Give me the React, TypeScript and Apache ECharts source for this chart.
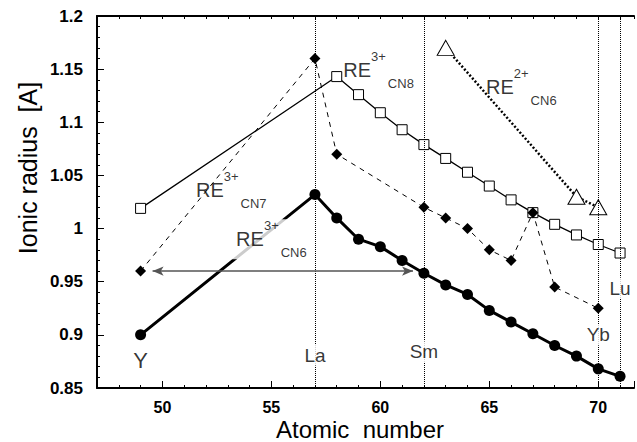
import React, { useEffect, useRef } from "react";
import * as echarts from "echarts";

const FONT = "'Liberation Sans', Arial, sans-serif";

// RE3+ CN6 (filled circles)
const cn6X = [49, 57, 58, 59, 60, 61, 62, 63, 64, 65, 66, 67, 68, 69, 70, 71];
const cn6Y = [0.9, 1.032, 1.01, 0.99, 0.983, 0.97, 0.958, 0.947, 0.938, 0.923, 0.912, 0.901, 0.89, 0.88, 0.868, 0.861];
// RE3+ CN8 (open squares)
const cn8X = [49, 58, 59, 60, 61, 62, 63, 64, 65, 66, 67, 68, 69, 70, 71];
const cn8Y = [1.019, 1.143, 1.126, 1.109, 1.093, 1.079, 1.066, 1.053, 1.04, 1.027, 1.015, 1.004, 0.994, 0.985, 0.977];
// RE3+ CN7 (filled diamonds, dashed)
const cn7X = [49, 57, 58, 62, 63, 64, 65, 66, 67, 68, 70];
const cn7Y = [0.96, 1.16, 1.07, 1.02, 1.01, 1.0, 0.98, 0.97, 1.015, 0.945, 0.925];
// RE2+ CN6 (open triangles, dotted)
const re2X = [63, 69, 70];
const re2Y = [1.17, 1.03, 1.02];

// element markers
const elemNames = ["Y", "La", "Sm", "Yb", "Lu"];
const elemX = [49, 57, 62, 70, 71];
const elemLabelY = [0.876, 0.881, 0.884, 0.9, 0.944];
const vLines = [57, 62, 70, 71];

// series annotations: [charge, CN], anchored at left-middle of "RE"
const annCharge = ["3+", "3+", "3+", "2+"];
const annCN = ["CN8", "CN7", "CN6", "CN6"];
const annX = [58.3, 51.54, 53.2, 64.85];
const annY = [1.149, 1.036, 0.99, 1.133];

// arrow
const arrowFrom = [49.55, 0.96];
const arrowTo = [61.5, 0.96];

const xMin = 47;
const xMax = 71.64;

export default function App() {
  const ref = useRef<HTMLDivElement>(null);
  useEffect(() => {
    if (!ref.current) return;
    const chart = echarts.init(ref.current, undefined, { renderer: "svg" });
    const zip = (xs: number[], ys: number[]) => xs.map((x, i) => [x, ys[i]]);
    const baseX = {
      type: "value",
      min: xMin,
      max: xMax,
      splitLine: { show: false },
      axisLine: { show: true, onZero: false, lineStyle: { color: "#000", width: 2 } },
    };
    const option: any = {
      animation: false,
      backgroundColor: "#fff",
      grid: { left: 97, top: 16, right: 0, bottom: 54, containLabel: false },
      xAxis: [
        {
          ...baseX,
          position: "bottom",
          interval: 1,
          axisTick: { show: true, inside: true, length: 3, lineStyle: { color: "#000", width: 1 } },
          axisLabel: { show: false },
        },
        {
          ...baseX,
          position: "top",
          interval: 1,
          axisTick: { show: true, inside: true, length: 3, lineStyle: { color: "#000", width: 1 } },
          axisLabel: { show: false },
        },
        {
          ...baseX,
          position: "bottom",
          splitNumber: 5,
          axisLine: { show: false },
          axisTick: { show: true, inside: true, length: 7, lineStyle: { color: "#000", width: 1 } },
          axisLabel: {
            show: true,
            color: "#000",
            fontFamily: FONT,
            fontWeight: "bold",
            fontSize: 16,
            lineHeight: 16,
            margin: 11,
            formatter: (v: number) => (Math.abs(v % 5) < 1e-6 ? String(v) : ""),
          },
        },
      ],
      yAxis: [
        {
          type: "value",
          min: 0.85,
          max: 1.2,
          interval: 0.05,
          splitLine: { show: false },
          axisLine: { show: true, onZero: false, lineStyle: { color: "#000", width: 2 } },
          axisTick: { show: true, inside: true, length: 7, lineStyle: { color: "#000", width: 1 } },
          minorTick: { show: true, splitNumber: 5, length: 3, lineStyle: { color: "#000", width: 1 } },
          axisLabel: {
            color: "#000",
            fontFamily: FONT,
            fontWeight: "bold",
            fontSize: 17,
            margin: 14,
          },
        },
      ],
      graphic: [
        {
          type: "text",
          x: 28,
          y: 168,
          rotation: Math.PI / 2,
          style: {
            text: "Ionic radius  [A]",
            font: `25px ${FONT}`,
            fill: "#000",
            textAlign: "center",
            textVerticalAlign: "middle",
          },
        },
        {
          type: "text",
          x: 360,
          y: 429,
          style: {
            text: "Atomic  number",
            font: `24px ${FONT}`,
            fill: "#000",
            textAlign: "center",
            textVerticalAlign: "middle",
          },
        },
      ],
      series: [
        {
          type: "line",
          name: "vlines",
          data: [],
          xAxisIndex: 0,
          markLine: {
            silent: true,
            symbol: ["none", "none"],
            label: { show: false },
            lineStyle: { color: "#000", type: "dotted", width: 1 },
            data: vLines.map((v) => ({ xAxis: v })),
          },
        },
        {
          type: "line",
          name: "arrow",
          data: [],
          markLine: {
            silent: true,
            symbol: ["arrow", "arrow"],
            symbolSize: [7, 11],
            label: { show: false },
            lineStyle: { color: "#555", type: "solid", width: 1.5 },
            data: [[{ coord: arrowFrom }, { coord: arrowTo }]],
          },
        },
        {
          type: "line",
          name: "RE3+ CN8",
          data: zip(cn8X, cn8Y),
          symbol: "rect",
          symbolSize: 10,
          lineStyle: { color: "#000", width: 1.3 },
          itemStyle: { color: "#fff", borderColor: "#000", borderWidth: 1 },
          z: 3,
        },
        {
          type: "line",
          name: "RE3+ CN7",
          data: zip(cn7X, cn7Y),
          symbol: "diamond",
          symbolSize: 11,
          lineStyle: { color: "#000", width: 1, type: [5, 5] },
          itemStyle: { color: "#000" },
          z: 3,
        },
        {
          type: "line",
          name: "RE2+ CN6",
          data: zip(re2X, re2Y),
          symbol: "triangle",
          symbolSize: [17, 15],
          lineStyle: { color: "#000", width: 2.5, type: [2, 2] },
          itemStyle: { color: "#fff", borderColor: "#000", borderWidth: 1 },
          z: 3,
        },
        {
          type: "line",
          name: "RE3+ CN6",
          data: zip(cn6X, cn6Y),
          symbol: "circle",
          symbolSize: 11,
          lineStyle: { color: "#000", width: 3 },
          itemStyle: { color: "#000" },
          z: 4,
        },
        {
          type: "scatter",
          name: "annotations",
          symbolSize: 0,
          silent: true,
          z: 10,
          data: annX.map((x, i) => ({
            value: [x, annY[i]],
            label: {
              backgroundColor: i === 2 ? "#fff" : "transparent",
              padding: i === 2 ? [0, 6, 0, 4] : 0,
            },
            charge: annCharge[i],
            cn: annCN[i],
          })),
          label: {
            show: true,
            position: "right",
            distance: 0,
            color: "#000",
            fontFamily: FONT,
            formatter: (p: any) => `{a|RE}{b|${p.data.charge}}{c|${p.data.cn}}`,
            rich: {
              a: { fontSize: 20, lineHeight: 40, fontFamily: FONT, color: "#000", verticalAlign: "middle" },
              b: { fontSize: 13, lineHeight: 29, fontFamily: FONT, color: "#000", verticalAlign: "top" },
              c: { fontSize: 13, lineHeight: 15, fontFamily: FONT, color: "#000", verticalAlign: "bottom", padding: [0, 0, 0, 2] },
            },
          },
        },
        {
          type: "scatter",
          name: "elements",
          symbolSize: 0,
          silent: true,
          z: 10,
          data: elemX.map((x, i) => ({ value: [x, elemLabelY[i]], name: elemNames[i] })),
          label: {
            show: true,
            position: "inside",
            color: "#000",
            fontFamily: FONT,
            fontSize: 19,
            backgroundColor: "#fff",
            padding: [1, 1],
            formatter: (p: any) => p.name,
          },
        },
      ],
    };
    // larger "Y"
    option.series[7].data[0].label = { fontSize: 22 };
    chart.setOption(option);
    return () => chart.dispose();
  }, []);
  return <div ref={ref} style={{ width: 637, height: 442, position: "absolute", left: 0, top: 0 }} />;
}
